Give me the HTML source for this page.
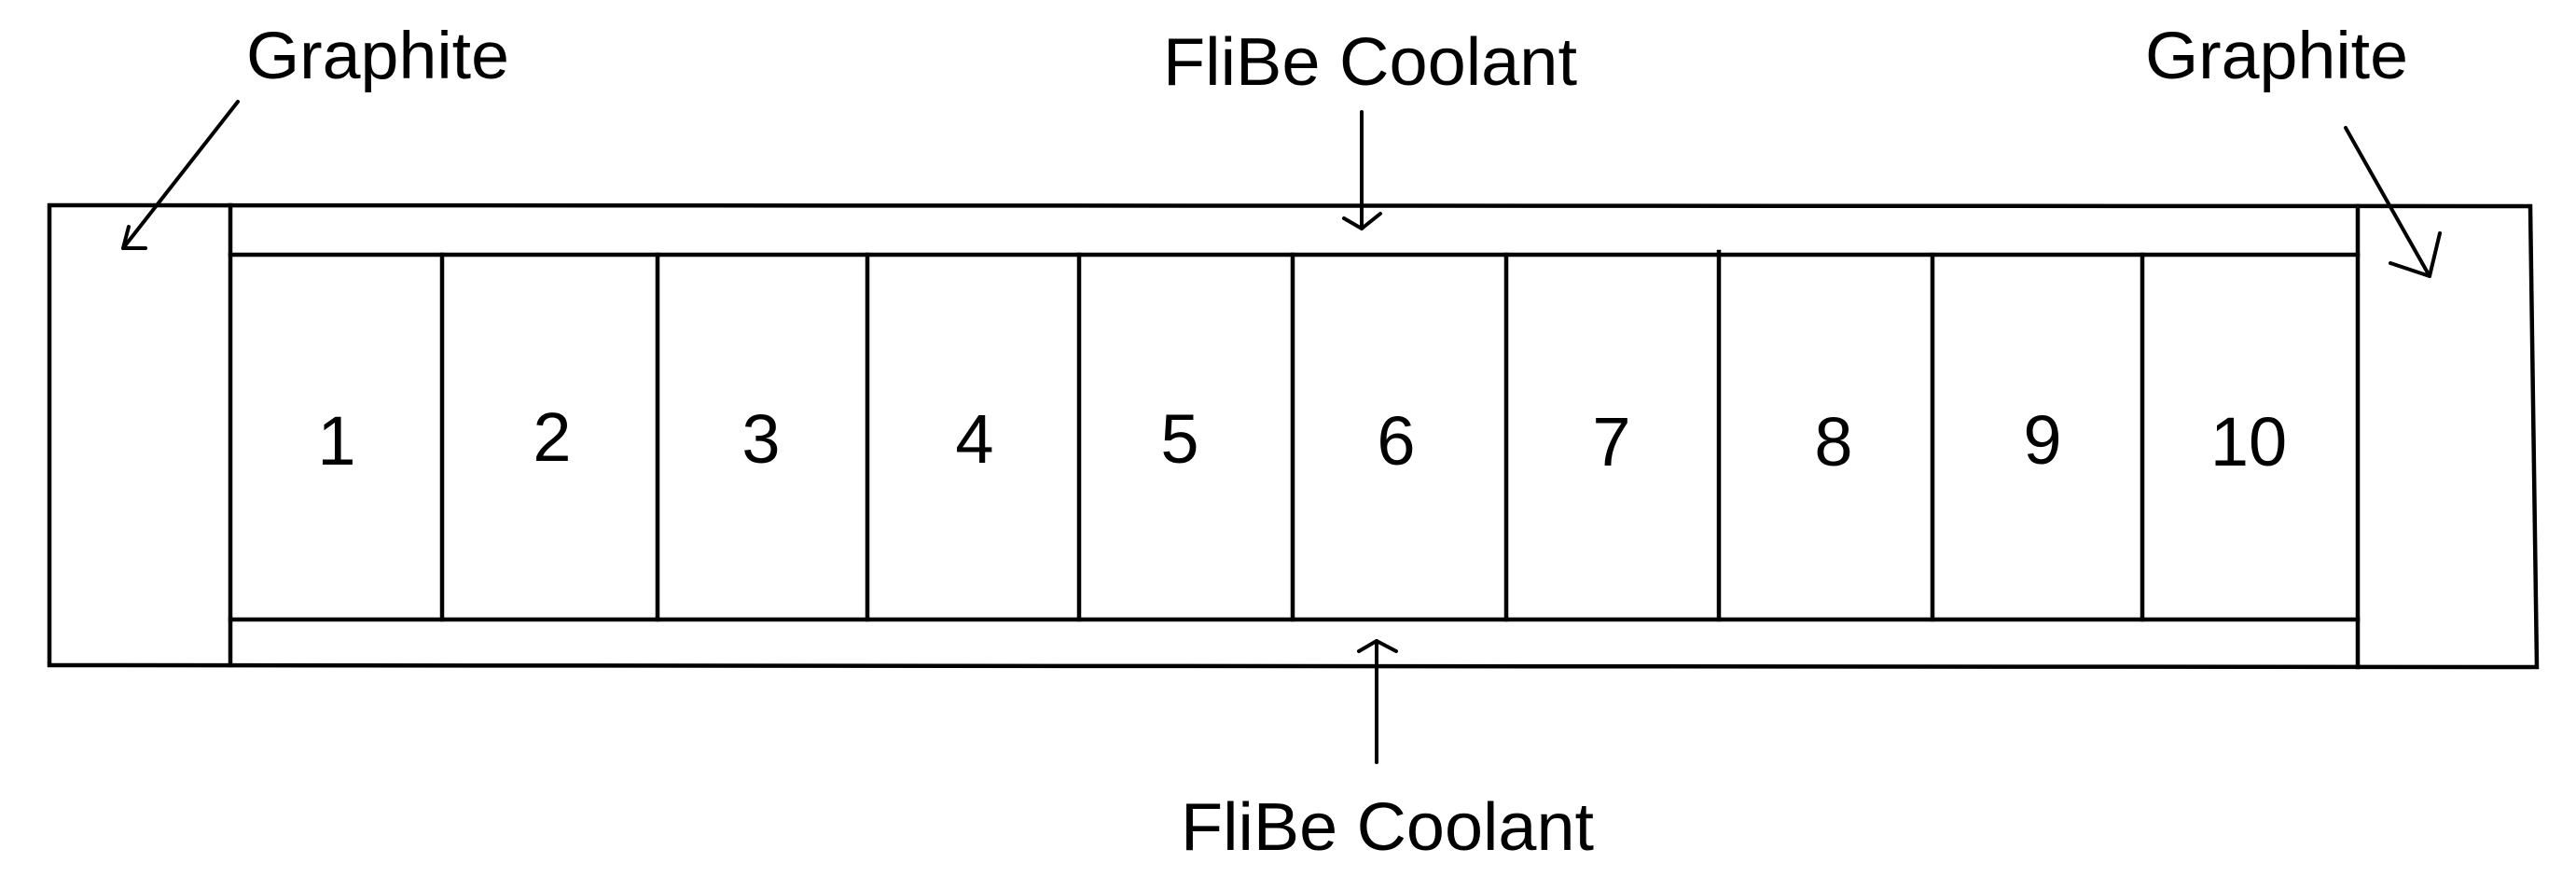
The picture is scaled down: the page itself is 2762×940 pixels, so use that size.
<!DOCTYPE html>
<html><head><meta charset="utf-8"><style>html,body{margin:0;padding:0;background:#fff}svg{display:block}</style></head>
<body>
<svg width="2762" height="940" viewBox="0 0 2762 940" xmlns="http://www.w3.org/2000/svg">
<g stroke="#000" stroke-width="4.5" fill="none" stroke-linecap="square">
<polygon points="53,220 2713,221 2720,715 53,713"/>
<line x1="247" y1="220" x2="247" y2="713"/>
<line x1="2528" y1="221" x2="2528" y2="715"/>
<line x1="247" y1="273" x2="2528" y2="273"/>
<line x1="247" y1="664" x2="2528" y2="664"/>
<line x1="474" y1="273" x2="474" y2="664"/>
<line x1="705" y1="273" x2="705" y2="664"/>
<line x1="930" y1="273" x2="930" y2="664"/>
<line x1="1157" y1="273" x2="1157" y2="664"/>
<line x1="1386" y1="273" x2="1386" y2="664"/>
<line x1="1615" y1="273" x2="1615" y2="664"/>
<line x1="1843" y1="270" x2="1843" y2="664"/>
<line x1="2072" y1="273" x2="2072" y2="664"/>
<line x1="2297" y1="273" x2="2297" y2="664"/>
</g>
<g stroke="#000" stroke-width="4" fill="none" stroke-linecap="round" stroke-linejoin="round">
<line x1="255" y1="109" x2="132" y2="266"/>
<polyline points="138,243 132,266 156,266"/>
<line x1="1460" y1="120" x2="1460" y2="245"/>
<polyline points="1441,234 1460,245 1480,229"/>
<line x1="1476" y1="817" x2="1476" y2="687"/>
<polyline points="1457,698 1476,687 1497,698"/>
<line x1="2515" y1="137" x2="2605" y2="296"/>
<polyline points="2563,282 2605,296 2616,250"/>
</g>
<g font-family="Liberation Sans, sans-serif" fill="#000">
<text x="264" y="84" font-size="71" textLength="282" lengthAdjust="spacingAndGlyphs">Graphite</text>
<text x="2300" y="84" font-size="71" textLength="282" lengthAdjust="spacingAndGlyphs">Graphite</text>
<text x="1247" y="91" font-size="72" textLength="444" lengthAdjust="spacingAndGlyphs">FliBe Coolant</text>
<text x="1266" y="911" font-size="72" textLength="443" lengthAdjust="spacingAndGlyphs">FliBe Coolant</text>
<g font-size="74" text-anchor="middle">
<text x="361" y="498">1</text>
<text x="592" y="494">2</text>
<text x="816" y="496">3</text>
<text x="1045" y="496">4</text>
<text x="1265" y="496">5</text>
<text x="1497" y="498">6</text>
<text x="1728" y="499">7</text>
<text x="1966" y="499">8</text>
<text x="2190" y="497">9</text>
<text x="2411" y="499">10</text>
</g>
</g>
</svg>
</body></html>
